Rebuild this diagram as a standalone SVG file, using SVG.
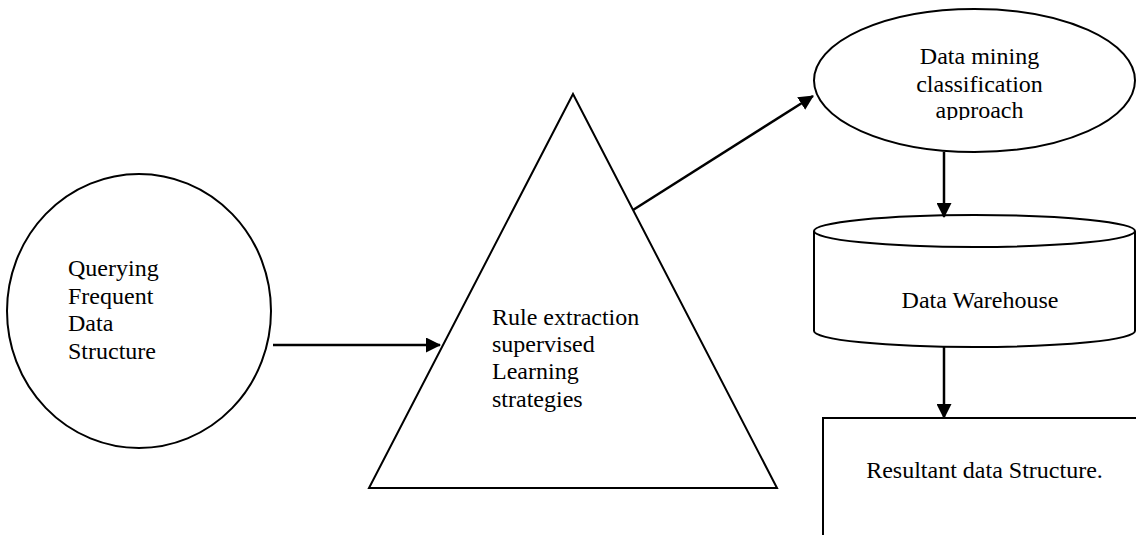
<svg xmlns="http://www.w3.org/2000/svg" width="1136" height="535" viewBox="0 0 1136 535">
  <style>
    .shape { fill: #ffffff; stroke: #000000; stroke-width: 2; }
    .conn { fill: none; stroke: #000000; stroke-width: 2.5; }
    .lbl { font-family: "Liberation Serif", "Times New Roman", serif; font-size: 24px; fill: #000000; }
    .mid { text-anchor: middle; }
  </style>
  <defs>
    <marker id="arrow" viewBox="0 0 15 15" refX="14" refY="7.5" markerWidth="15" markerHeight="15" markerUnits="userSpaceOnUse" orient="auto">
      <path d="M0,0 L15,7.5 L0,15 Z" fill="#000000"/>
    </marker>
    <clipPath id="ellClip">
      <rect x="800" y="0" width="336" height="120"/>
    </clipPath>
  </defs>
  <rect x="0" y="0" width="1136" height="535" fill="#ffffff"/>

  <g id="node-querying">
    <ellipse class="shape" cx="139" cy="311" rx="132" ry="137"/>
    <text class="lbl" x="68" y="276">Querying</text>
    <text class="lbl" x="68" y="303.5">Frequent</text>
    <text class="lbl" x="68" y="331">Data</text>
    <text class="lbl" x="68" y="358.5">Structure</text>
  </g>

  <g id="node-rule-extraction">
    <polygon class="shape" points="573,94 777,488 369,488"/>
    <text class="lbl" x="492" y="325">Rule extraction</text>
    <text class="lbl" x="492" y="352">supervised</text>
    <text class="lbl" x="492" y="379">Learning</text>
    <text class="lbl" x="492" y="407">strategies</text>
  </g>

  <g id="node-data-mining">
    <ellipse class="shape" cx="974.5" cy="80.5" rx="160.5" ry="71.5"/>
    <text class="lbl mid" x="979.5" y="64">Data mining</text>
    <text class="lbl mid" x="979.5" y="92">classification</text>
    <text class="lbl mid" x="979.5" y="118" clip-path="url(#ellClip)">approach</text>
  </g>

  <g id="node-data-warehouse">
    <path class="shape" d="M814,231 L814,331 A160.5,16 0 0 0 1135,331 L1135,231 A160.5,16 0 0 0 814,231 Z"/>
    <path class="shape" fill="none" d="M814,231 A160.5,16 0 0 0 1135,231"/>
    <text class="lbl mid" x="980" y="308">Data Warehouse</text>
  </g>

  <g id="node-resultant">
    <rect class="shape" x="823" y="418" width="400" height="200"/>
    <text class="lbl mid" x="984.5" y="478">Resultant data Structure.</text>
  </g>

  <g id="connectors">
    <line class="conn" x1="273" y1="345" x2="440" y2="345" marker-end="url(#arrow)"/>
    <line class="conn" x1="633" y1="210" x2="813" y2="96" marker-end="url(#arrow)"/>
    <line class="conn" x1="944" y1="152" x2="944" y2="217" marker-end="url(#arrow)"/>
    <line class="conn" x1="944" y1="347" x2="944" y2="418" marker-end="url(#arrow)"/>
  </g>
</svg>
